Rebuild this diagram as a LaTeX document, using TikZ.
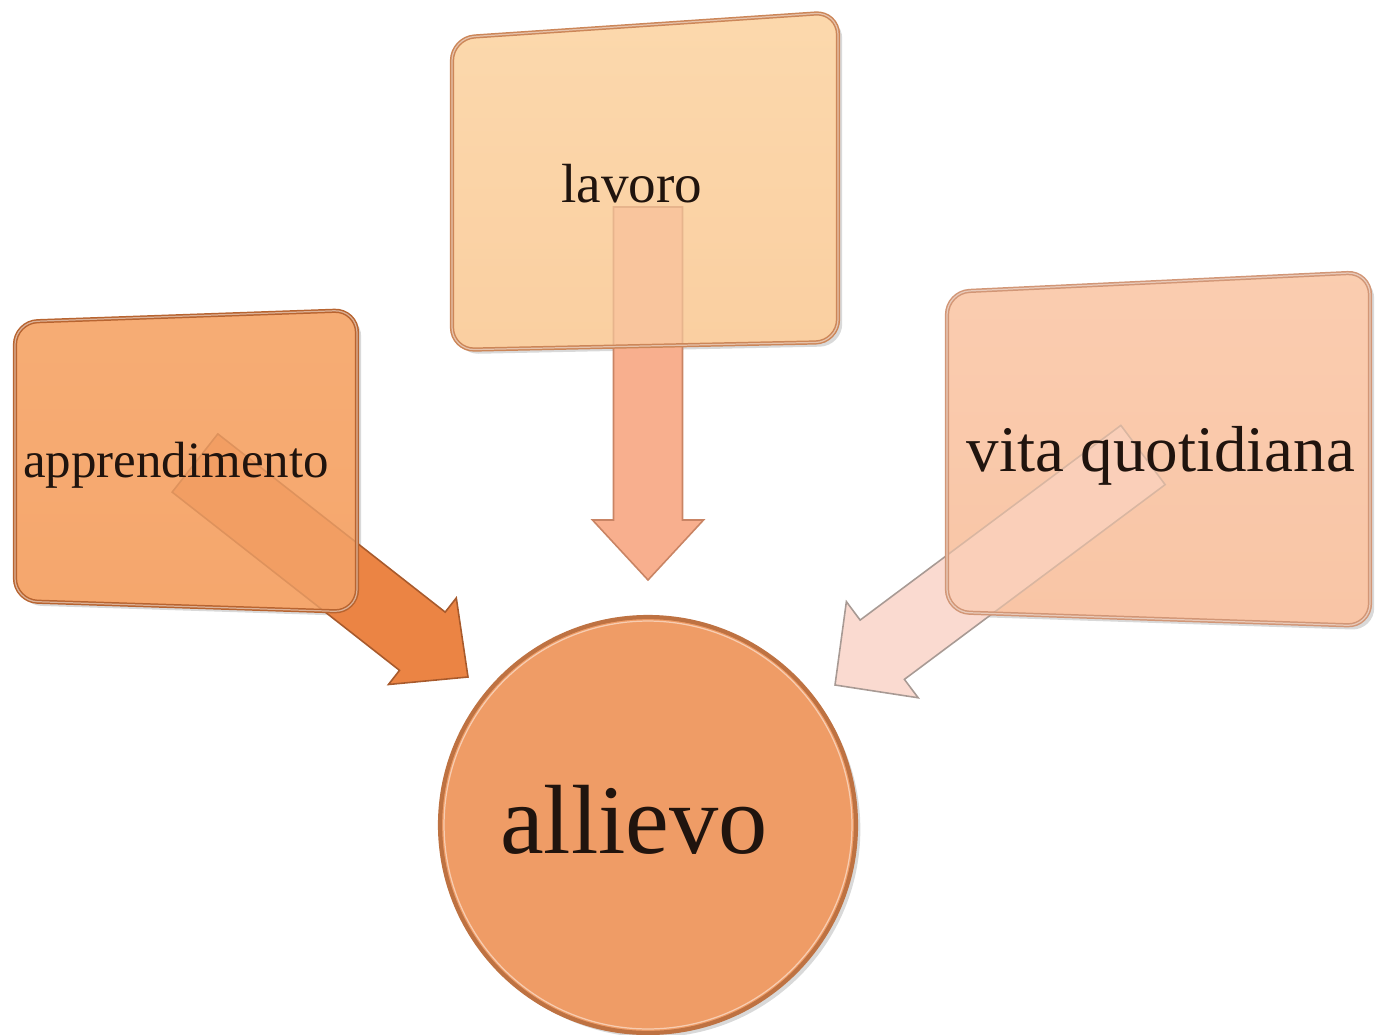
\documentclass[tikz,border=0pt]{standalone}
\usepackage{fontspec}
\setmainfont{Liberation Serif}
\usetikzlibrary{calc,shadows}

% palette
\definecolor{apTop}{HTML}{F9B47E}
\definecolor{apBot}{HTML}{F4A064}
\definecolor{apEdge}{HTML}{B86430}
\definecolor{lvTop}{HTML}{FEE0B6}
\definecolor{lvBot}{HTML}{F9C898}
\definecolor{lvEdge}{HTML}{CC8658}
\definecolor{vtTop}{HTML}{FBD3B8}
\definecolor{vtBot}{HTML}{F8C09E}
\definecolor{vtEdge}{HTML}{D29676}
\definecolor{ciFill}{HTML}{EF9C66}
\definecolor{ciEdge}{HTML}{BE7242}
\definecolor{arA}{HTML}{EB8444}
\definecolor{arAEdge}{HTML}{A85A2C}
\definecolor{arL}{HTML}{F8AF8E}
\definecolor{arLEdge}{HTML}{C98464}
\definecolor{arV}{HTML}{FADAD0}
\definecolor{arVEdge}{HTML}{A89A94}
\definecolor{ink}{HTML}{20140E}

% block arrow: #1 style, #2 start, #3 tip, #4 shaft half width, #5 head half width, #6 head length
\newcommand\blockarrow[6]{%
  \coordinate (ba-h) at ($(#3)!#6!(#2)$);
  \path[#1] ($(#2)!#4!90:(#3)$) -- ($(ba-h)!#4!90:(#3)$) -- ($(ba-h)!#5!90:(#3)$) -- (#3)
    -- ($(ba-h)!#5!-90:(#3)$) -- ($(ba-h)!#4!-90:(#3)$) -- ($(#2)!#4!-90:(#3)$) -- cycle;
}

\begin{document}
\begin{tikzpicture}[x=0.02cm,y=-0.02cm,
  boxshape/.style={rounded corners=0.45cm},
  boxshadow/.style={drop shadow={shadow xshift=2.4pt,shadow yshift=-2.4pt,opacity=0.3}},
  rim/.style={boxshape,draw=#1,line width=2.4pt},
  gleam/.style={boxshape,draw=white,draw opacity=0.5,line width=0.7pt},
  word/.style={inner sep=0pt,anchor=base,text=ink},
  arrowbody/.style={draw=#1,line width=0.9pt,line join=miter}]
\useasboundingbox (0,0) rectangle (1375,1034);

% corner points of the three boxes
\coordinate (a1) at (15,322);  \coordinate (a2) at (357,310);
\coordinate (a3) at (357,612); \coordinate (a4) at (15,601);
\coordinate (l1) at (452,38);  \coordinate (l2) at (838,12);
\coordinate (l3) at (838,342); \coordinate (l4) at (452,350);
\coordinate (v1) at (947,292); \coordinate (v2) at (1370,272);
\coordinate (v3) at (1370,626);\coordinate (v4) at (947,612);

% arrow ends
\coordinate (as) at (195,463);  \coordinate (at) at (468,677);
\coordinate (ls) at (648,207);  \coordinate (lt) at (648,580);
\coordinate (vs) at (1143,455); \coordinate (vt) at (835,685);

% central circle
\node[circle,minimum size=8.32cm,inner sep=0pt,fill=ciFill,draw=ciEdge,line width=2.4pt,
      drop shadow={shadow xshift=2.5pt,shadow yshift=-2.5pt,opacity=0.3}] (stud) at (648,825) {};
\draw[white,opacity=0.5,line width=0.7pt] (stud.center) circle[radius=4.08cm];

% box bases
\path[boxshape,boxshadow,top color=apTop,bottom color=apBot] (a1)--(a2)--(a3)--(a4)--cycle;
\path[boxshape,boxshadow,top color=lvTop,bottom color=lvBot] (l1)--(l2)--(l3)--(l4)--cycle;
\path[boxshape,boxshadow,top color=vtTop,bottom color=vtBot] (v1)--(v2)--(v3)--(v4)--cycle;

% arrows towards the circle
\blockarrow{arrowbody=arAEdge,fill=arA}{as}{at}{0.74cm}{1.1cm}{1.16cm}
\blockarrow{arrowbody=arLEdge,fill=arL}{ls}{lt}{0.69cm}{1.11cm}{1.2cm}
\blockarrow{arrowbody=arVEdge,fill=arV}{vs}{vt}{0.74cm}{1.2cm}{1.18cm}

% translucent box faces over the arrow shafts
\path[boxshape,fill=apTop!50!apBot,fill opacity=0.7] (a1)--(a2)--(a3)--(a4)--cycle;
\path[boxshape,fill=lvTop!50!lvBot,fill opacity=0.6] (l1)--(l2)--(l3)--(l4)--cycle;
\path[boxshape,fill=vtTop!50!vtBot,fill opacity=0.6] (v1)--(v2)--(v3)--(v4)--cycle;

% bevelled rims
\draw[rim=apEdge] (a1)--(a2)--(a3)--(a4)--cycle;
\draw[gleam] (a1)--(a2)--(a3)--(a4)--cycle;
\draw[rim=lvEdge] (l1)--(l2)--(l3)--(l4)--cycle;
\draw[gleam] (l1)--(l2)--(l3)--(l4)--cycle;
\draw[rim=vtEdge] (v1)--(v2)--(v3)--(v4)--cycle;
\draw[gleam] (v1)--(v2)--(v3)--(v4)--cycle;

% labels
\node[word,font=\fontsize{29}{34}\selectfont] (appr) at (176,477) {apprendimento};
\node[word,font=\fontsize{31.4}{36}\selectfont] (lav) at (632,202) {lavoro};
\node[word,font=\fontsize{37}{44}\selectfont] (vita) at (1161,471) {vita quotidiana};
\node[word,font=\fontsize{56}{66}\selectfont] (allievo) at (634,853) {allievo};
\end{tikzpicture}
\end{document}
